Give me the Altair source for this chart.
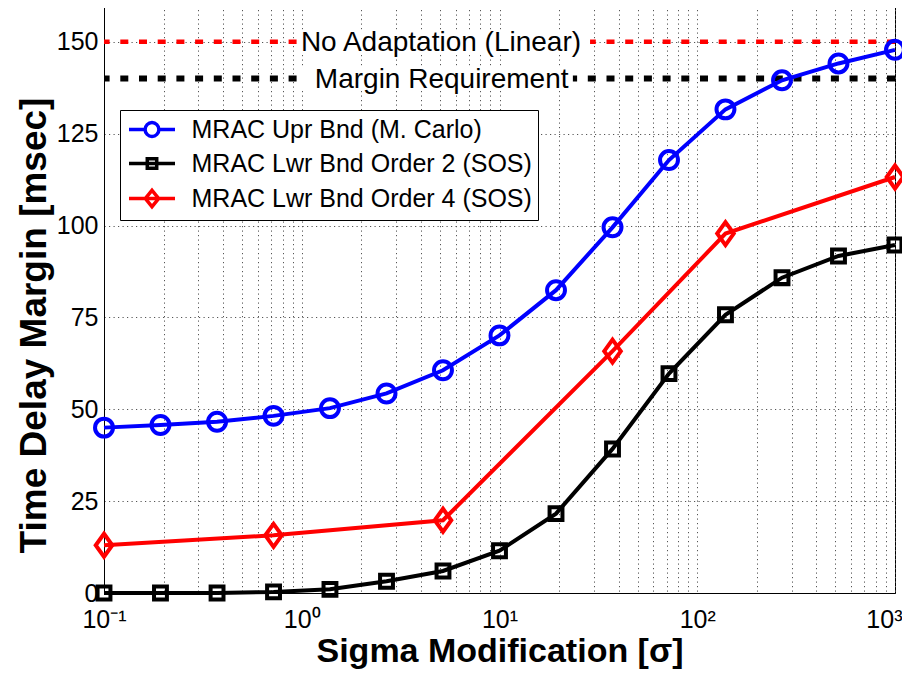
import altair as alt
import pandas as pd

# ---------------- data ----------------
x_sigma = [0.1, 0.193, 0.373, 0.720, 1.389, 2.683, 5.179, 10.0, 19.31, 37.28,
           71.97, 138.9, 268.3, 517.9, 1000.0]
upr_mc = [45.0, 45.7, 46.6, 48.2, 50.3, 54.3, 60.6, 70.1, 82.4, 99.5,
          117.8, 131.6, 139.5, 144.1, 147.8]
lwr_o2 = [0.0, 0.0, 0.0, 0.3, 1.0, 3.2, 6.0, 11.5, 21.6, 39.2,
          59.7, 75.7, 85.8, 91.7, 94.7]
x_sigma_o4 = [0.1, 0.720, 5.179, 37.28, 138.9, 1000.0]
lwr_o4 = [13.0, 15.7, 19.8, 65.8, 97.8, 113.2]

series_names = ["MRAC Upr Bnd (M. Carlo)", "MRAC Lwr Bnd Order 2 (SOS)",
                "MRAC Lwr Bnd Order 4 (SOS)"]
series_colors = ["#0000ff", "#000000", "#ff0000"]

ref_labels = ["No Adaptation (Linear)", "Margin Requirement"]
ref_values = [150, 140]
ref_label_x = [5.06, 5.1]
ref_box_x1 = [0.946, 0.98]
ref_box_x2 = [28.7, 23.5]

y_ticks = [0, 25, 50, 75, 100, 125, 150]
x_decades = [0.1, 1, 10, 100, 1000]
x_decade_labels = ["10\u207b\u00b9", "10\u2070", "10\u00b9", "10\u00b2", "10\u00b3"]
x_minor = [m * d for d in [0.1, 1, 10, 100] for m in range(2, 10)]

FONT = "Liberation Sans"

# ---------------- tables ----------------
rows = []
for xs, ys, name in [(x_sigma, upr_mc, series_names[0]),
                     (x_sigma, lwr_o2, series_names[1]),
                     (x_sigma_o4, lwr_o4, series_names[2])]:
    for i, (a, b) in enumerate(zip(xs, ys)):
        rows.append({"series": name, "x": a, "y": b, "i": i})
df = pd.DataFrame(rows)

ref_df = pd.DataFrame({"label": ref_labels, "y": ref_values, "lx": ref_label_x,
                       "bx1": ref_box_x1, "bx2": ref_box_x2,
                       "by1": [v - 3 for v in ref_values], "by2": [v + 3 for v in ref_values]})

label_expr = " : ".join(
    f"datum.value == {v} ? '{l}'" for v, l in zip(x_decades, x_decade_labels)) + " : ''"

xscale = alt.Scale(type="log", domain=[0.1, 1000], nice=False)
yscale = alt.Scale(domain=[0, 160], nice=False)

X = alt.X("x:Q", scale=xscale,
          axis=alt.Axis(values=x_decades + x_minor, labelExpr=label_expr,
                        title="Sigma Modification [\u03c3]", labelPadding=14,
                        titlePadding=2, labelFlush=False, labelOverlap=False,
                        labelAlign={"condition": {"test": "datum.value == 1000", "value": "right"},
                                    "value": "center"},
                        labelOffset={"condition": {"test": "datum.value == 1000", "value": 7},
                                     "value": 0}))
Y = alt.Y("y:Q", scale=yscale,
          axis=alt.Axis(values=y_ticks, title="Time Delay Margin [msec]",
                        labelPadding=6, titlePadding=3, titleFontSize=37, titleY=320))

base = alt.Chart(df)

rule_red = alt.Chart(ref_df.iloc[[0]]).mark_rule(
    color="#ff0000", strokeWidth=4.5, strokeDash=[8, 10.7]).encode(y=alt.Y("y:Q", scale=yscale))
rule_blk = alt.Chart(ref_df.iloc[[1]]).mark_rule(
    color="#000000", strokeWidth=6, strokeDash=[8, 10.7]).encode(y=alt.Y("y:Q", scale=yscale))

boxes = alt.Chart(ref_df).mark_rect(fill="white").encode(
    x=alt.X("bx1:Q", scale=xscale), x2="bx2:Q",
    y=alt.Y("by1:Q", scale=yscale), y2="by2:Q")

texts = alt.Chart(ref_df).mark_text(font=FONT, fontSize=28, color="black",
                                    baseline="middle", align="center", dy=1).encode(
    x=alt.X("lx:Q", scale=xscale), y=alt.Y("y:Q", scale=yscale), text="label:N")

circle_path = "M0.78,0A0.78,0.78,0,1,1,-0.78,0A0.78,0.78,0,1,1,0.78,0Z"
square_path = "M-0.56,-0.56H0.56V0.56H-0.56Z"
diamond_path = "M0,-1L0.72,0L0,1L-0.72,0Z"
point_paths = [circle_path, square_path, diamond_path]

lines, pts = [], []
for name, col, shp in zip(series_names, series_colors, point_paths):
    sub = base.transform_filter(alt.datum.series == name)
    lines.append(sub.mark_line(color=col, strokeWidth=4).encode(
        x=X, y=Y, order="i:Q"))
    pts.append(sub.mark_point(
        filled=False, color=col, shape=shp, size=529, strokeWidth=4, opacity=1
    ).encode(x=alt.X("x:Q", scale=xscale), y=alt.Y("y:Q", scale=yscale)))

leg_paths = [
    "M-2,0H-0.6M0.6,0H2M0.6,0A0.6,0.6,0,1,1,-0.6,0A0.6,0.6,0,1,1,0.6,0Z",
    "M-2,0H2M-0.41,-0.41H0.41V0.41H-0.41Z",
    "M-2,0H2M0,-0.71L0.58,0L0,0.71L-0.58,0Z",
]
leg = dict(title=None, orient="none", legendX=16, legendY=105,
           fillColor="white", strokeColor="black", padding=6, cornerRadius=0,
           symbolSize=529, symbolStrokeWidth=3.5, symbolOpacity=1,
           symbolOffset=12.5, labelOffset=26, rowPadding=6,
           labelFont=FONT, labelFontSize=25, labelColor="black", labelLimit=0)
legend_layer = base.mark_point(filled=False, opacity=0).encode(
    x=alt.X("x:Q", scale=xscale), y=alt.Y("y:Q", scale=yscale),
    color=alt.Color("series:N", scale=alt.Scale(domain=series_names, range=series_colors),
                    legend=alt.Legend(**leg)),
    shape=alt.Shape("series:N", scale=alt.Scale(domain=series_names, range=leg_paths),
                    legend=alt.Legend(**leg)))

chart = alt.layer(rule_red, rule_blk, boxes, texts, *lines, *pts, legend_layer).properties(
    width=791, height=588,
    autosize=alt.AutoSizeParams(type="none"),
    padding={"left": 96, "top": -3, "right": 7, "bottom": 78},
).configure_view(stroke="black", strokeWidth=1).configure_axis(
    labelFont=FONT, titleFont=FONT, labelFontSize=25, titleFontSize=34,
    titleFontWeight="bold", labelColor="black", titleColor="black",
    domainColor="black", ticks=False, grid=True, gridColor="#555555",
    gridDash=[1.2, 3.3], gridOpacity=1, gridWidth=1,
)

chart.save("out.html", embed_options={"renderer": "svg", "actions": False})
